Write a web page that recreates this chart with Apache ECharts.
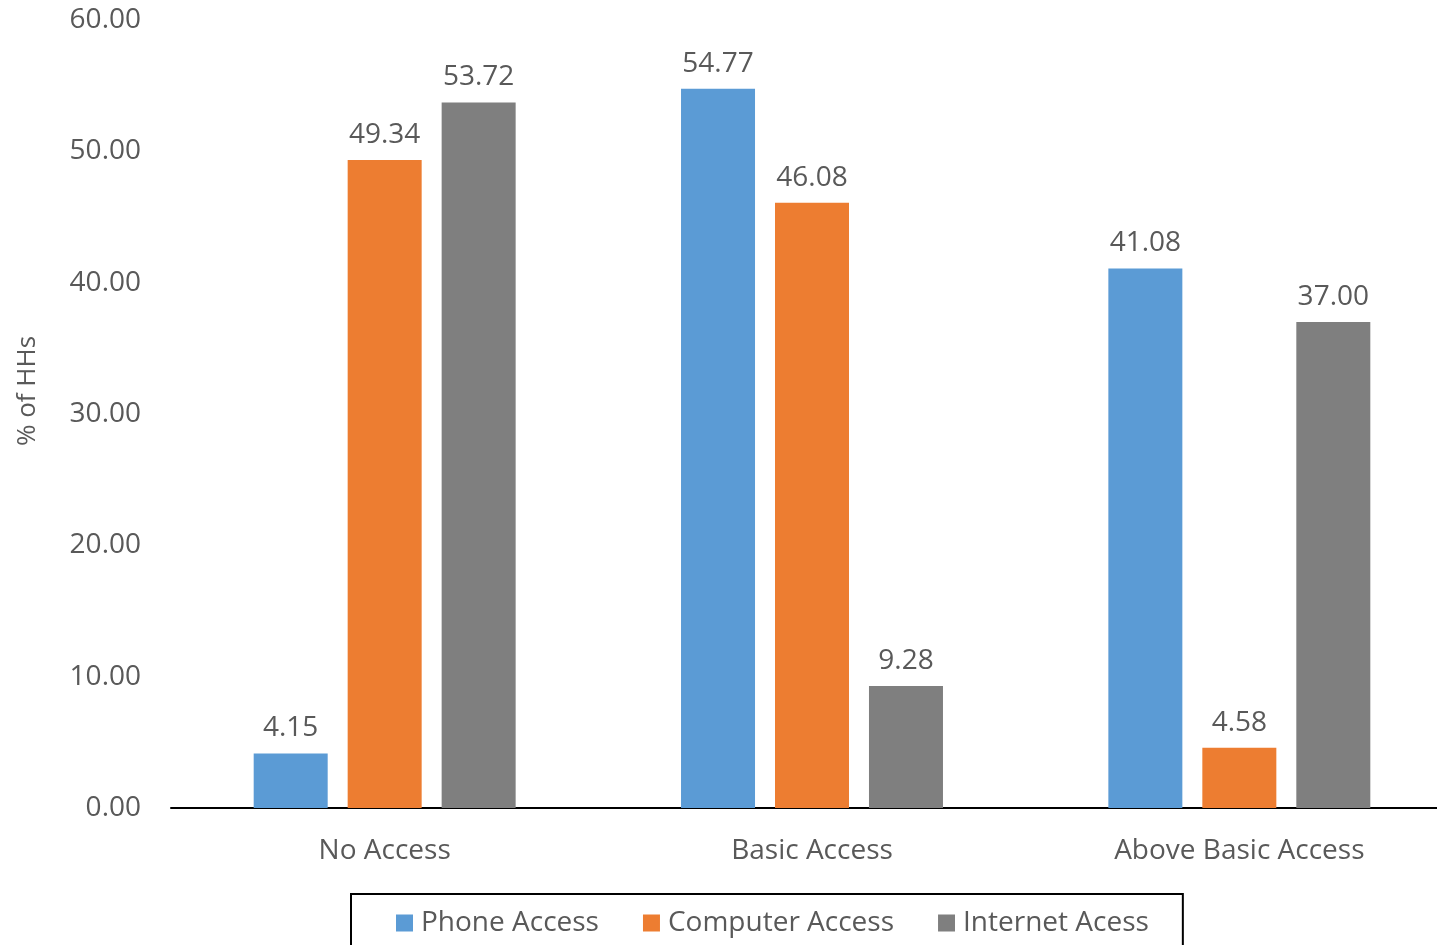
<!DOCTYPE html>
<html>
<head>
<meta charset="utf-8">
<script src="https://cdn.jsdelivr.net/npm/echarts@6/dist/echarts.min.js"></script>
<style>
  html, body { margin: 0; padding: 0; background: #fff; overflow: hidden; }
  /* the plot area runs slightly past the right edge of the page */
  #chart { width: 1453px; height: 945px; }
</style>
</head>
<body>
<div id="chart"></div>
<script>
// Household access levels by device type
const categories = ['No Access', 'Basic Access', 'Above Basic Access'];
const phoneAccess = [4.15, 54.77, 41.08];
const computerAccess = [49.34, 46.08, 4.58];
const internetAccess = [53.72, 9.28, 37.00];
const seriesNames = ['Phone Access', 'Computer Access', 'Internet Acess'];
const colors = ['#5B9BD5', '#ED7D31', '#7F7F7F'];

const FONT = '"Open Sans", "Noto Sans", sans-serif';
const TEXT = '#595959';

const chart = echarts.init(document.getElementById('chart'), null, { renderer: 'canvas' });

const label = {
  show: true,
  position: 'top',
  distance: 11,
  color: TEXT,
  fontFamily: FONT,
  fontSize: 28,
  formatter: p => p.value.toFixed(2)
};

chart.setOption({
  animation: false,
  color: colors,
  textStyle: { fontFamily: FONT },
  grid: { left: 171, top: 20, right: 0, bottom: 137, containLabel: false },
  legend: {
    left: 351,
    top: 894,
    icon: 'rect',
    itemWidth: 17,
    itemHeight: 17,
    itemGap: 44,
    padding: [15, 34, 40, 45],
    borderColor: '#000',
    borderWidth: 2,
    textStyle: { color: TEXT, fontFamily: FONT, fontSize: 28, padding: [0, 0, 0, 3] },
    data: seriesNames
  },
  xAxis: {
    type: 'category',
    data: categories,
    axisLine: { lineStyle: { color: '#000', width: 2 } },
    axisTick: { show: false },
    axisLabel: { color: TEXT, fontFamily: FONT, fontSize: 28, margin: 29 }
  },
  yAxis: {
    type: 'value',
    min: 0,
    max: 60,
    interval: 10,
    name: '% of HHs',
    nameLocation: 'middle',
    nameGap: 130,
    nameTextStyle: { color: TEXT, fontFamily: FONT, fontSize: 26, padding: [0, 0, 0, 46] },
    splitLine: { show: false },
    axisLine: { show: false },
    axisTick: { show: false },
    axisLabel: {
      color: TEXT, fontFamily: FONT, fontSize: 28, margin: 30,
      formatter: v => v.toFixed(2)
    }
  },
  series: [
    { name: seriesNames[0], type: 'bar', data: phoneAccess, barWidth: 74, barGap: '27%', label },
    { name: seriesNames[1], type: 'bar', data: computerAccess, barWidth: 74, barGap: '27%', label },
    { name: seriesNames[2], type: 'bar', data: internetAccess, barWidth: 74, barGap: '27%', label }
  ]
});
</script>
</body>
</html>
